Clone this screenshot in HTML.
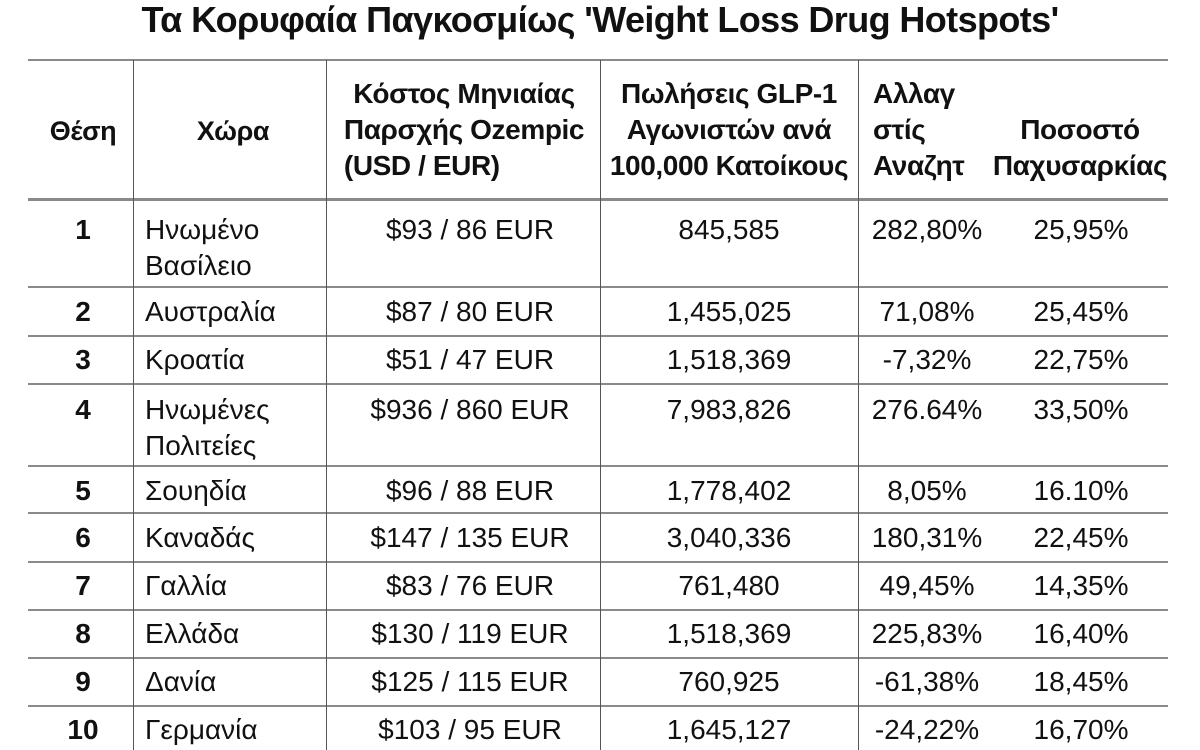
<!DOCTYPE html><html><head><meta charset="utf-8"><style>
body{margin:0;width:1200px;height:750px;background:#fff;position:relative;overflow:hidden;font-family:"Liberation Sans",Arial,sans-serif;color:#111}
.t{position:absolute;white-space:nowrap;line-height:36px;font-size:28px}
.b{font-weight:bold}
.hd{font-size:28px;letter-spacing:-0.4px}
.c{transform:translateX(-50%);text-align:center}
.h{position:absolute;left:28px;width:1140px;height:2px;background:#8a8a8a}
.v{position:absolute;width:1px;background:#555;top:60px;height:690px}
</style></head><body>
<div class="t b c" style="left:600px;top:0px;font-size:36px;line-height:40px;letter-spacing:-0.6px">Τα Κορυφαία Παγκοσμίως 'Weight Loss Drug Hotspots'</div>
<div class="h" style="top:59px"></div><div class="h" style="top:198px;height:3px"></div><div class="h" style="top:286px"></div><div class="h" style="top:335px"></div><div class="h" style="top:383px"></div><div class="h" style="top:465px"></div><div class="h" style="top:512px"></div><div class="h" style="top:561px"></div><div class="h" style="top:609px"></div><div class="h" style="top:657px"></div><div class="h" style="top:705px"></div>
<div class="v" style="left:133px"></div><div class="v" style="left:326px"></div><div class="v" style="left:600px"></div><div class="v" style="left:858px"></div>
<div class="t b c hd" style="left:83px;top:113px;font-size:27px">Θέση</div>
<div class="t b c hd" style="left:233px;top:113px;font-size:27px">Χώρα</div>
<div class="t b c hd" style="left:464px;top:76px">Κόστος Μηνιαίας<br>Παρσχής Ozempic<br><span style="display:block;text-align:left">(USD / EUR)</span></div>
<div class="t b c hd" style="left:729px;top:76px">Πωλήσεις GLP-1<br>Αγωνιστών ανά<br>100,000 Κατοίκους</div>
<div class="t b hd" style="left:873px;top:76px">Αλλαγ<br>στίς<br>Αναζητ</div>
<div class="t b c hd" style="left:1080px;top:112px">Ποσοστό<br>Παχυσαρκίας</div>
<div id="rows"></div>
<script>
var d=[[1,"Ηνωμένο<br>Βασίλειο","$93 / 86 EUR","845,585","282,80%","25,95%",212],
[2,"Αυστραλία","$87 / 80 EUR","1,455,025","71,08%","25,45%",294],
[3,"Κροατία","$51 / 47 EUR","1,518,369","-7,32%","22,75%",342],
[4,"Ηνωμένες<br>Πολιτείες","$936 / 860 EUR","7,983,826","276.64%","33,50%",392],
[5,"Σουηδία","$96 / 88 EUR","1,778,402","8,05%","16.10%",473],
[6,"Καναδάς","$147 / 135 EUR","3,040,336","180,31%","22,45%",520],
[7,"Γαλλία","$83 / 76 EUR","761,480","49,45%","14,35%",568],
[8,"Ελλάδα","$130 / 119 EUR","1,518,369","225,83%","16,40%",616],
[9,"Δανία","$125 / 115 EUR","760,925","-61,38%","18,45%",664],
[10,"Γερμανία","$103 / 95 EUR","1,645,127","-24,22%","16,70%",712]];
var h="";d.forEach(function(r){var y=r[6];
h+='<div class="t b c" style="left:83px;top:'+y+'px">'+r[0]+'</div>';
h+='<div class="t" style="left:145px;top:'+y+'px">'+r[1]+'</div>';
h+='<div class="t c" style="left:470px;top:'+y+'px">'+r[2]+'</div>';
h+='<div class="t c" style="left:729px;top:'+y+'px">'+r[3]+'</div>';
h+='<div class="t c" style="left:927px;top:'+y+'px">'+r[4]+'</div>';
h+='<div class="t c" style="left:1081px;top:'+y+'px">'+r[5]+'</div>';});
document.getElementById("rows").innerHTML=h;
</script>
</body></html>
